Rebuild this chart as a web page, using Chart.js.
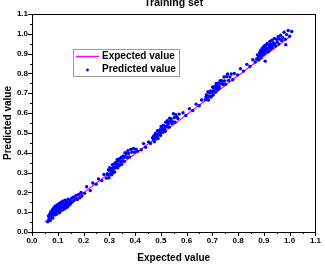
<!DOCTYPE html>
<html>
<head>
<meta charset="utf-8">
<script src="https://cdn.jsdelivr.net/npm/chart.js@4"></script>
<style>
  html, body { margin: 0; padding: 0; background: #fff; }
  #wrap { width: 325px; height: 269px; }
</style>
</head>
<body>
<div id="wrap"><canvas id="chart"></canvas></div>
<script>
const chartTitle = 'Training set';
const xTitle = 'Expected value';
const yTitle = 'Predicted value';
const axisTicks = [0, 0.1, 0.2, 0.3, 0.4, 0.5, 0.6, 0.7, 0.8, 0.9, 1.0, 1.1];

// Expected value line (y = x over the data range)
const lineX = [0.05, 1.0];
const lineY = [0.05, 0.985];

// Predicted values: [expected, predicted]
const cluster1 = [
  [0.061,0.052],[0.064,0.081],[0.066,0.067],[0.069,0.091],[0.071,0.058],[0.073,0.102],[0.074,0.079],[0.077,0.088],
  [0.079,0.112],[0.080,0.070],[0.083,0.097],[0.084,0.121],[0.086,0.085],[0.087,0.108],[0.089,0.094],[0.090,0.131],
  [0.092,0.117],[0.093,0.101],[0.095,0.089],[0.096,0.124],[0.098,0.110],[0.099,0.138],[0.101,0.119],[0.102,0.105],
  [0.103,0.128],[0.105,0.143],[0.106,0.114],[0.107,0.097],[0.109,0.133],[0.110,0.122],[0.112,0.149],[0.113,0.108],
  [0.114,0.127],[0.116,0.139],[0.117,0.118],[0.119,0.156],[0.120,0.131],[0.121,0.112],[0.123,0.144],[0.124,0.125],
  [0.126,0.137],[0.128,0.161],[0.129,0.119],[0.131,0.148],[0.133,0.130],[0.134,0.154],[0.136,0.141],[0.138,0.126],
  [0.140,0.165],[0.142,0.147],[0.145,0.136],[0.147,0.158],[0.150,0.143],[0.153,0.169],[0.156,0.151],[0.160,0.176],
  [0.163,0.159],[0.167,0.172],[0.171,0.185],[0.176,0.164],[0.181,0.190],[0.186,0.173],[0.190,0.199],[0.194,0.182]
];
const gap1 = [[0.204,0.195],[0.212,0.228],[0.226,0.209],[0.236,0.247],[0.249,0.241],[0.258,0.268],[0.271,0.259],[0.279,0.290]];
const cluster2 = [
  [0.289,0.271],[0.292,0.294],[0.294,0.288],[0.297,0.314],[0.299,0.274],[0.301,0.310],[0.302,0.325],[0.304,0.291],
  [0.306,0.305],[0.307,0.321],[0.309,0.288],[0.311,0.316],[0.312,0.340],[0.314,0.305],[0.315,0.299],[0.317,0.328],
  [0.318,0.324],[0.320,0.345],[0.321,0.303],[0.323,0.324],[0.325,0.342],[0.326,0.352],[0.328,0.327],[0.329,0.342],
  [0.331,0.366],[0.333,0.324],[0.334,0.342],[0.336,0.358],[0.337,0.340],[0.339,0.368],[0.341,0.337],[0.343,0.359],
  [0.345,0.355],[0.346,0.377],[0.348,0.341],[0.350,0.374],[0.352,0.359],[0.354,0.384],[0.356,0.375],[0.358,0.356],
  [0.361,0.400],[0.363,0.380],[0.366,0.396],[0.369,0.377],[0.372,0.410],[0.375,0.396],[0.379,0.379],[0.383,0.416],
  [0.388,0.403],[0.393,0.421],[0.398,0.404],[0.404,0.418],[0.410,0.407]
];
const gap2 = [[0.424,0.415],[0.433,0.446],[0.441,0.428],[0.452,0.455],[0.460,0.447]];
const cluster3 = [
  [0.468,0.476],[0.471,0.466],[0.473,0.486],[0.475,0.455],[0.477,0.478],[0.479,0.497],[0.481,0.469],[0.483,0.493],
  [0.485,0.482],[0.487,0.511],[0.489,0.472],[0.491,0.495],[0.493,0.508],[0.495,0.497],[0.497,0.516],[0.499,0.487],
  [0.501,0.532],[0.503,0.513],[0.505,0.521],[0.507,0.503],[0.509,0.538],[0.511,0.514],[0.513,0.535],[0.515,0.523],
  [0.517,0.508],[0.519,0.554],[0.521,0.534],[0.523,0.532],[0.525,0.561],[0.527,0.554],[0.529,0.545],[0.532,0.529],
  [0.534,0.574],[0.537,0.558],[0.540,0.571],[0.543,0.547],[0.546,0.557],[0.549,0.597],[0.552,0.577],[0.555,0.554],
  [0.558,0.592],[0.562,0.581],[0.566,0.573],[0.571,0.595]
];
const gap3 = [[0.586,0.602],[0.597,0.588],[0.611,0.622],[0.624,0.613],[0.637,0.645],[0.649,0.637],[0.658,0.666]];
const cluster4 = [
  [0.672,0.668],[0.675,0.682],[0.677,0.693],[0.679,0.668],[0.681,0.684],[0.683,0.708],[0.685,0.666],[0.687,0.685],
  [0.689,0.701],[0.691,0.684],[0.693,0.712],[0.695,0.681],[0.697,0.703],[0.699,0.709],[0.701,0.732],[0.703,0.691],
  [0.705,0.724],[0.707,0.709],[0.709,0.734],[0.711,0.725],[0.713,0.706],[0.715,0.749],[0.717,0.724],[0.719,0.739],
  [0.721,0.719],[0.723,0.751],[0.725,0.736],[0.727,0.727],[0.730,0.763],[0.733,0.748],[0.736,0.764],[0.739,0.761],
  [0.742,0.744],[0.745,0.782],[0.748,0.762],[0.751,0.746],[0.755,0.784],[0.759,0.797],[0.763,0.765],[0.768,0.782],
  [0.773,0.797],[0.779,0.768],[0.785,0.800]
];
const gap4 = [[0.798,0.793],[0.809,0.824],[0.821,0.812],[0.834,0.846],[0.846,0.835],[0.857,0.869],[0.866,0.858]];
const cluster5 = [
  [0.872,0.873],[0.875,0.894],[0.878,0.881],[0.880,0.868],[0.883,0.905],[0.885,0.889],[0.887,0.915],[0.889,0.878],
  [0.891,0.902],[0.893,0.926],[0.895,0.893],[0.897,0.911],[0.899,0.936],[0.901,0.899],[0.903,0.921],[0.905,0.942],
  [0.907,0.908],[0.909,0.930],[0.911,0.918],[0.913,0.951],[0.915,0.926],[0.917,0.909],[0.919,0.944],[0.921,0.933],
  [0.923,0.962],[0.925,0.921],[0.927,0.948],[0.929,0.937],[0.931,0.968],[0.933,0.929],[0.935,0.955],[0.937,0.943],
  [0.940,0.976],[0.943,0.951],[0.946,0.938],[0.949,0.972],[0.952,0.959],[0.955,0.985],[0.958,0.948],[0.961,0.974],
  [0.965,0.993],[0.969,0.966],[0.973,0.981],[0.978,1.008],[0.983,0.972],[0.988,0.996],[0.994,1.017],[1.000,0.988],
  [1.008,1.012],[0.905,0.862],[0.985,0.945]
];

const predicted = [].concat(cluster1, gap1, cluster2, gap2, cluster3, gap3, cluster4, gap4, cluster5)
  .map(p => ({ x: p[0], y: p[1] }));
const expected = lineX.map((x, i) => ({ x: x, y: lineY[i] }));

const tickFont = { family: 'Arial', size: 8, weight: 'bold' };
const titleFont = { family: 'Arial', size: 10, weight: 'bold' };

// frame, ticks, title and legend (Origin style)
const originStyle = {
  id: 'originStyle',
  afterDraw(chart) {
    const ctx = chart.ctx;
    const a = chart.chartArea;
    const xs = chart.scales.x, ys = chart.scales.y;
    ctx.save();
    ctx.strokeStyle = '#000';
    ctx.lineWidth = 1;
    ctx.strokeRect(Math.round(a.left) + 0.5, Math.round(a.top) + 0.5,
      Math.round(a.right - a.left), Math.round(a.bottom - a.top));

    // outward ticks, major at labels and minor between
    ctx.beginPath();
    for (let i = 0; i <= 22; i++) {
      const v = i * 0.05;
      const len = i % 2 === 0 ? 4 : 2;
      const px = Math.round(xs.getPixelForValue(v)) + 0.5;
      ctx.moveTo(px, a.bottom);
      ctx.lineTo(px, a.bottom + len);
      const py = Math.round(ys.getPixelForValue(v)) + 0.5;
      ctx.moveTo(a.left, py);
      ctx.lineTo(a.left - len, py);
    }
    ctx.stroke();

    // title, cut at the top like the original
    ctx.fillStyle = '#000';
    ctx.font = 'bold 10.5px Arial';
    ctx.textAlign = 'center';
    ctx.textBaseline = 'alphabetic';
    ctx.fillText(chartTitle, (a.left + a.right) / 2, 5.5);

    // legend box
    ctx.fillStyle = '#fff';
    ctx.fillRect(73, 49, 106, 27);
    ctx.strokeStyle = '#999';
    ctx.strokeRect(73.5, 49.5, 106, 27);
    ctx.strokeStyle = '#ff00ff';
    ctx.lineWidth = 1.5;
    ctx.beginPath();
    ctx.moveTo(76, 56.5);
    ctx.lineTo(99, 56.5);
    ctx.stroke();
    ctx.fillStyle = '#0000ff';
    ctx.beginPath();
    ctx.arc(87.5, 70, 1.4, 0, Math.PI * 2);
    ctx.fill();
    ctx.fillStyle = '#000';
    ctx.font = 'bold 10px Arial';
    ctx.textAlign = 'left';
    ctx.textBaseline = 'middle';
    ctx.fillText(chart.data.datasets[0].label, 102, 56);
    ctx.fillText(chart.data.datasets[1].label, 102, 69.5);
    ctx.restore();
  }
};

function axis(title, fit) {
  return {
    type: 'linear',
    min: 0,
    max: 1.1,
    afterFit: fit,
    afterBuildTicks: s => { s.ticks = axisTicks.map(v => ({ value: v })); },
    grid: { display: false, drawTicks: false, tickLength: 0 },
    border: { display: true, color: '#000', width: 1 },
    ticks: {
      padding: 4,
      color: '#000',
      font: tickFont,
      autoSkip: false,
      maxRotation: 0,
      callback: v => Number(v).toFixed(1)
    },
    title: { display: true, text: title, color: '#000', font: titleFont }
  };
}

const xAxis = axis(xTitle, s => { s.height = 37; });
xAxis.title.padding = { top: 0, bottom: 5 };
const yAxis = axis(yTitle, s => { s.width = 32; });
yAxis.title.padding = { top: 2, bottom: 0 };

new Chart(document.getElementById('chart'), {
  type: 'scatter',
  data: {
    datasets: [{
      label: 'Expected value',
      data: expected,
      showLine: true,
      borderColor: '#ff00ff',
      borderWidth: 1.2,
      pointRadius: 0,
      order: 2
    }, {
      label: 'Predicted value',
      data: predicted,
      backgroundColor: '#0000ff',
      borderWidth: 0,
      pointRadius: 1.7,
      order: 1
    }]
  },
  options: {
    responsive: true,
    maintainAspectRatio: false,
    animation: false,
    layout: { padding: { top: 14, right: 8, left: 0, bottom: 0 } },
    plugins: { legend: { display: false }, tooltip: { enabled: false } },
    scales: { x: xAxis, y: yAxis }
  },
  plugins: [originStyle]
});
</script>
</body>
</html>
